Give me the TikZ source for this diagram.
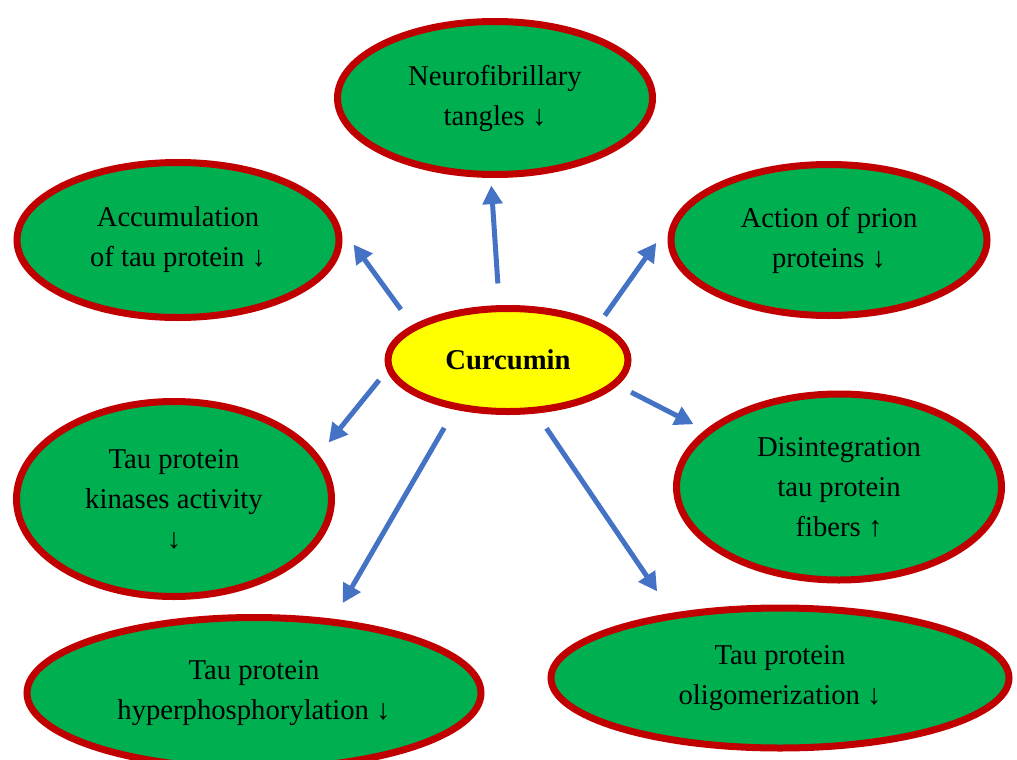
\documentclass[tikz,border=0pt]{standalone}
\usepackage{fontspec}
\setmainfont{Liberation Serif}
\usepackage{xcolor}
\usepackage{tikz}
\usetikzlibrary{shapes.geometric,arrows.meta}
\definecolor{ccgreen}{RGB}{0,176,80}
\definecolor{ccred}{RGB}{192,0,0}
\definecolor{ccyellow}{RGB}{255,255,0}
\definecolor{ccblue}{RGB}{68,114,196}

\begin{document}
\begin{tikzpicture}[x=0.75pt, y=-0.75pt,
  eff/.style={ellipse, draw=ccred, line width=5.25pt, fill=ccgreen, inner sep=0pt,
              align=center, font=\fontsize{21.5}{30}\selectfont},
  hub/.style={eff, fill=ccyellow, font=\fontsize{21.5}{30}\selectfont\bfseries},
  arr/.style={-{Triangle[length=14pt, width=14.5pt]}, line width=3.75pt, ccblue}]

\useasboundingbox (0,0) rectangle (1017,760);

\node[hub, minimum width=180pt, minimum height=77.25pt] (cur) at (508,360) {Curcumin};

\node[eff, minimum width=236.25pt, minimum height=114.75pt] (nft) at (495,98)
  {Neurofibrillary\\tangles ↓};
\node[eff, minimum width=241.5pt, minimum height=116.25pt] (acc) at (178,240)
  {Accumulation\\of tau protein ↓};
\node[eff, minimum width=237pt, minimum height=113.25pt] (pri) at (829,240)
  {Action of prion\\proteins ↓};
\node[eff, minimum width=236.25pt, minimum height=146.25pt] (kin) at (174,499)
  {Tau protein\\kinases activity\\↓};
\node[eff, minimum width=243.75pt, minimum height=139.5pt] (dis) at (839,487)
  {Disintegration\\tau protein\\fibers ↑};
\node[eff, minimum width=340.5pt, minimum height=113.25pt] (hyp) at (254,693)
  {Tau protein\\hyperphosphorylation ↓};
\node[eff, minimum width=343.5pt, minimum height=105pt] (oli) at (780,678)
  {Tau protein\\oligomerization ↓};

\draw[arr, shorten <=16.3pt, shorten >=5.6pt] (cur.99.7) -- (nft.267.5);
\draw[arr, shorten <=14.6pt, shorten >=17.3pt] (cur.160.9) -- (acc.5.2);
\draw[arr, shorten <=6.9pt, shorten >=22.7pt] (cur.22.4) -- (pri.172);
\draw[arr, shorten <=9.2pt, shorten >=11.8pt] (cur.185.9) -- (kin.17.7);
\draw[arr, shorten <=11.3pt, shorten >=9.6pt] (cur.347.7) -- (dis.157.8);
\draw[arr, shorten <=15.8pt, shorten >=13.7pt] (cur.223.8) -- (hyp.43.7);
\draw[arr, shorten <=13.4pt, shorten >=19.5pt] (cur.298.3) -- (oli.149.9);
\end{tikzpicture}
\end{document}
